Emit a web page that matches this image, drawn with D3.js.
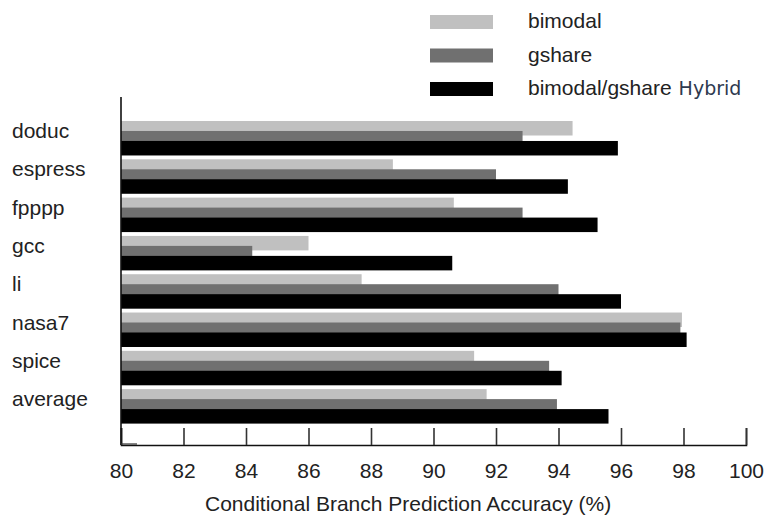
<!DOCTYPE html>
<html>
<head>
<meta charset="utf-8">
<script src="https://cdn.jsdelivr.net/npm/d3@7"></script>
<style>
  body { margin: 0; background: #fff; }
  svg { display: block; font-family: "Liberation Sans", Arial, sans-serif; }
</style>
</head>
<body>
<div id="grafico"></div>
<script>
// Dados do gráfico
const benchmarks = ["doduc", "espress", "fpppp", "gcc", "li", "nasa7", "spice", "average"];
const series = ["bimodal", "gshare", "hybrid"];
const bimodal = [94.45, 88.7, 90.65, 86.0, 87.7, 97.95, 91.3, 91.7];
const gshare = [92.85, 92.0, 92.85, 84.2, 94.0, 97.9, 93.7, 93.95];
const hybrid = [95.9, 94.3, 95.25, 90.6, 96.0, 98.1, 94.1, 95.6];
const xTicks = [80, 82, 84, 86, 88, 90, 92, 94, 96, 98, 100];

const cores = { bimodal: "#c0c0c0", gshare: "#707070", hybrid: "#000000" };
const valores = { bimodal: bimodal, gshare: gshare, hybrid: hybrid };

const width = 766, height = 520;
const fonte = 21;
const svg = d3.select("#grafico").append("svg")
    .attr("width", width)
    .attr("height", height);

// Escalas
const x = d3.scaleLinear().domain([80, 100]).range([121, 746]);
const y = d3.scaleBand().domain(benchmarks).range([121, 423.6]).paddingInner(0.1).paddingOuter(0);
const barH = 14.5;
const sub = d3.scalePoint().domain(series).range([0, y.bandwidth() - barH]);

// Barras (sobrepostas, na ordem claro -> escuro)
series.forEach(s => {
    svg.append("g").selectAll("rect")
        .data(benchmarks)
        .join("rect")
        .attr("x", x(80))
        .attr("y", (d, i) => y(d) + sub(s))
        .attr("width", (d, i) => x(valores[s][i]) - x(80))
        .attr("height", barH)
        .attr("fill", cores[s]);
});

// Rótulos das categorias
svg.append("g").selectAll("text")
    .data(benchmarks)
    .join("text")
    .attr("x", 12)
    .attr("y", d => y(d) + 17)
    .attr("font-size", fonte)
    .attr("fill", "#222")
    .text(d => d);

// Eixo X com ticks para dentro
const eixoY = 445;
const axisX = svg.append("g")
    .attr("transform", `translate(0,${eixoY})`)
    .call(d3.axisBottom(x).tickValues(xTicks).tickSize(-17).tickPadding(0).tickFormat(d3.format("d")));
axisX.select(".domain").attr("stroke", "#111").attr("stroke-width", 1.6);
axisX.selectAll(".tick line").attr("stroke", "#333").attr("stroke-width", 1.6);
axisX.selectAll(".tick text")
    .attr("y", 33)
    .attr("dy", 0)
    .attr("font-size", fonte)
    .attr("font-family", "Liberation Sans, Arial, sans-serif")
    .attr("fill", "#222");

// Eixo Y (linha vertical)
svg.append("line")
    .attr("x1", x(80)).attr("x2", x(80))
    .attr("y1", 97).attr("y2", eixoY)
    .attr("stroke", "#111").attr("stroke-width", 1.6);
svg.append("line")
    .attr("x1", x(80)).attr("x2", x(80) + 16)
    .attr("y1", eixoY - 1).attr("y2", eixoY - 1)
    .attr("stroke", "#333").attr("stroke-width", 1.2);

// Título do eixo
svg.append("text")
    .attr("x", 205)
    .attr("y", 511)
    .attr("font-size", fonte)
    .attr("fill", "#222")
    .text("Conditional Branch Prediction Accuracy (%)");

// Legenda
const legendas = [
    { s: "bimodal", y: 15, txt: "bimodal" },
    { s: "gshare", y: 48.5, txt: "gshare" },
    { s: "hybrid", y: 82, txt: "bimodal/gshare" }
];
const leg = svg.append("g");
legendas.forEach(l => {
    leg.append("rect")
        .attr("x", 430).attr("y", l.y)
        .attr("width", 63).attr("height", 14)
        .attr("fill", cores[l.s]);
    const t = leg.append("text")
        .attr("x", 528).attr("y", l.y + 13)
        .attr("font-size", fonte)
        .attr("fill", "#222")
        .text(l.txt);
    if (l.s === "hybrid") {
        t.append("tspan")
            .attr("dx", 7)
            .attr("font-family", "DejaVu Sans, sans-serif")
            .attr("font-size", 19)
            .attr("fill", "#2f3a4f")
            .text("Hybrid");
    }
});
</script>
</body>
</html>
